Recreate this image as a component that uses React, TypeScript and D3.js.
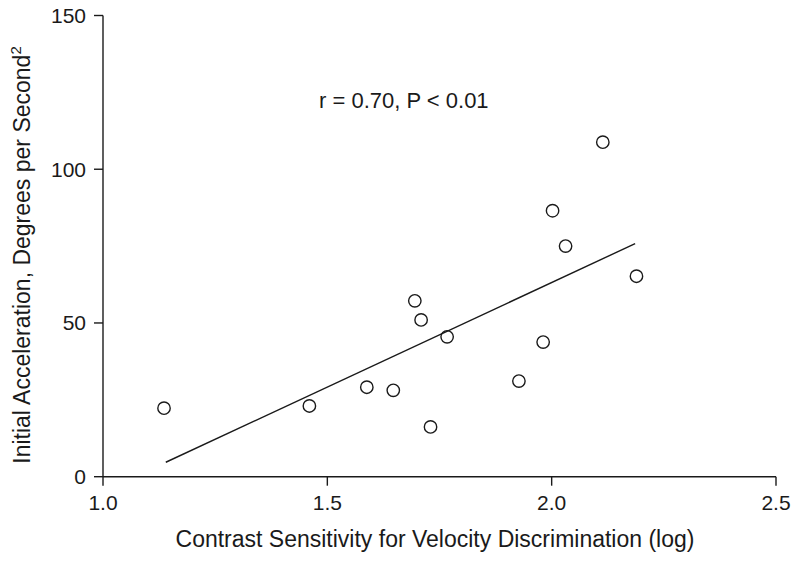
import React from "react";
import * as d3 from "d3";

const contrastSensitivity = [1.136, 1.46, 1.588, 1.647, 1.73, 1.767, 1.709, 1.695, 1.927, 1.981, 2.002, 2.031, 2.114, 2.189];
const acceleration = [22.3, 23.0, 29.1, 28.1, 16.2, 45.5, 51.0, 57.2, 31.1, 43.8, 86.5, 75.0, 108.8, 65.2];
const fitX = [1.14, 2.186];
const fitY = [4.7, 75.8];
const xTicks = [1.0, 1.5, 2.0, 2.5];
const yTicks = [0, 50, 100, 150];
const annotation = "r = 0.70, P < 0.01";

export default function App() {
  const W = 800, H = 561;
  const x = d3.scaleLinear().domain([1.0, 2.5]).range([103, 776]);
  const y = d3.scaleLinear().domain([0, 150]).range([476.7, 15.5]);
  const font = "'Liberation Sans', Arial, Helvetica, sans-serif";
  const ink = "#1a1a1a";
  const line = d3.line<[number, number]>().x(d => x(d[0])).y(d => y(d[1]));
  const fitPts: [number, number][] = fitX.map((v, i) => [v, fitY[i]]);
  return (
    <svg width={W} height={H} style={{ position: "absolute", left: 0, top: 0, background: "#fff" }} fontFamily={font}>
      <line x1={x(1.0)} x2={x(2.5)} y1={y(0)} y2={y(0)} stroke={ink} strokeWidth={1.4} />
      <line x1={x(1.0)} x2={x(1.0)} y1={y(0)} y2={y(150)} stroke={ink} strokeWidth={1.4} />
      {xTicks.map(t => (
        <g key={"x" + t}>
          <line x1={x(t)} x2={x(t)} y1={y(0)} y2={y(0) + 9} stroke={ink} strokeWidth={1.4} />
          <text x={x(t)} y={y(0) + 33} textAnchor="middle" fontSize={21} fill={ink}>{t.toFixed(1)}</text>
        </g>
      ))}
      {yTicks.map(t => (
        <g key={"y" + t}>
          <line x1={x(1.0) - 9} x2={x(1.0)} y1={y(t)} y2={y(t)} stroke={ink} strokeWidth={1.4} />
          <text x={x(1.0) - 17} y={y(t) + 7.5} textAnchor="end" fontSize={21} fill={ink}>{t}</text>
        </g>
      ))}
      <text x={435} y={547} textAnchor="middle" fontSize={23} fill={ink}>
        Contrast Sensitivity for Velocity Discrimination (log)
      </text>
      <text transform={`translate(30, 255) rotate(-90)`} textAnchor="middle" fontSize={23} fill={ink}>
        Initial Acceleration, Degrees per Second<tspan dy={-9} fontSize={15}>2</tspan>
      </text>
      <text x={319} y={108} fontSize={22} fill={ink}>{annotation}</text>
      <path d={line(fitPts) || ""} fill="none" stroke={ink} strokeWidth={1.4} />
      {contrastSensitivity.map((v, i) => (
        <circle key={i} cx={x(v)} cy={y(acceleration[i])} r={6.2} fill="none" stroke={ink} strokeWidth={1.4} />
      ))}
    </svg>
  );
}
